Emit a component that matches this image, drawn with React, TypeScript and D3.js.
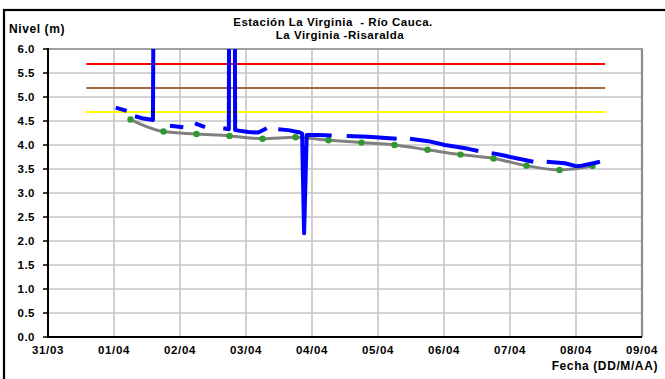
import React from 'react';
import * as d3 from 'd3';

// ---- data ----
const xTickLabels = ['31/03', '01/04', '02/04', '03/04', '04/04', '05/04', '06/04', '07/04', '08/04', '09/04'];
const yTickValues = [0, 0.5, 1, 1.5, 2, 2.5, 3, 3.5, 4, 4.5, 5, 5.5, 6];

// days since 31/03 00:00
const dotTimes = [1.25, 1.75, 2.25, 2.75, 3.25, 3.75, 4.25, 4.75, 5.25, 5.75, 6.25, 6.75, 7.25, 7.75, 8.25];
const dotLevels = [4.53, 4.28, 4.23, 4.19, 4.13, 4.16, 4.1, 4.05, 4.0, 3.9, 3.8, 3.72, 3.57, 3.48, 3.56];

const blueTimes = [
  1.026, 1.192, 1.2,
  1.318, 1.45, 1.59, 1.6, 1.61,
  1.848, 2.05, 2.1,
  2.227, 2.379, 2.4,
  2.656, 2.74, 2.745, 2.83, 2.835, 3.035, 3.186, 3.314, 3.4,
  3.489, 3.641, 3.818, 3.85, 3.88, 3.92, 4.1, 4.298, 4.4,
  4.526, 4.853, 5.283, 5.3,
  5.485, 5.762, 6.015, 6.368, 6.52, 6.6,
  6.723, 6.874, 7.353, 7.4,
  7.556, 7.833, 8.0, 8.086, 8.262, 8.364,
];
const blueLevels: (number | null)[] = [
  4.78, 4.71, null,
  4.6, 4.55, 4.52, 7.5, null,
  4.4, 4.37, null,
  4.45, 4.37, null,
  4.35, 4.33, 7.5, 7.5, 4.31, 4.27, 4.26, 4.35, null,
  4.33, 4.31, 4.26, 4.24, 2.16, 4.21, 4.21, 4.2, null,
  4.19, 4.17, 4.13, null,
  4.13, 4.08, 4.0, 3.92, 3.875, null,
  3.83, 3.79, 3.65, null,
  3.65, 3.62, 3.56, 3.57, 3.62, 3.65,
];

const thresholdLevels = [5.69, 5.19, 4.69];
const thresholdStart = 0.58;
const thresholdEnd = 8.44;

// ---- styles ----
const thresholdColors = ['#FF0000', '#A0683C', '#FFFF00'];
const FONT = '"Liberation Sans", Arial, sans-serif';

export default function App() {
  const W = 665, H = 379;
  const x0 = 48, x1 = 642, y0 = 337, y1 = 49;
  const x = d3.scaleLinear().domain([0, 9]).range([x0, x1]);
  const y = d3.scaleLinear().domain([0, 6]).range([y0, y1]);

  const blueData = blueTimes.map((t, i) => ({ t, v: blueLevels[i] }));
  const blueLine = d3.line<{ t: number; v: number | null }>()
    .defined(d => d.v !== null)
    .x(d => x(d.t))
    .y(d => y(d.v as number));

  const grayData = dotTimes.map((t, i) => ({ t, v: dotLevels[i] }));
  const grayLine = d3.line<{ t: number; v: number }>()
    .x(d => x(d.t))
    .y(d => y(d.v))
    .curve(d3.curveMonotoneX);

  const txt = { fontFamily: FONT, fontWeight: 700, fill: '#000', whiteSpace: 'pre' } as const;

  return (
    <svg width={W} height={H} style={{ position: 'absolute', left: 0, top: 0, background: '#fff' }}>
      <defs>
        <clipPath id="plotClip">
          <rect x={x0} y={y1} width={x1 - x0} height={y0 - y1} />
        </clipPath>
      </defs>
      {/* outer frame */}
      <rect x={4} y={10} width={720} height={420} fill="none" stroke="#000" strokeWidth={2.2} />

      {/* gridlines */}
      {yTickValues.map(v => (
        <line key={'h' + v} x1={x0} x2={x1} y1={y(v)} y2={y(v)} stroke="#C4C4C4" strokeWidth={1.6} />
      ))}
      {xTickLabels.map((l, i) => (
        <line key={'v' + l} x1={x(i)} x2={x(i)} y1={y1} y2={y0} stroke="#C4C4C4" strokeWidth={1.6} />
      ))}
      {/* plot border top/right */}
      <line x1={x0} x2={x1 + 1} y1={y1} y2={y1} stroke="#A0A0A0" strokeWidth={1.8} />
      <line x1={x1} x2={x1} y1={y1} y2={y0} stroke="#8C8C8C" strokeWidth={2.2} />

      {/* thresholds */}
      {thresholdLevels.map((v, i) => (
        <line key={'t' + i} x1={x(thresholdStart)} x2={x(thresholdEnd)} y1={y(v)} y2={y(v)}
          stroke={thresholdColors[i]} strokeWidth={2} />
      ))}

      <g clipPath="url(#plotClip)">
        <path d={grayLine(grayData) || ''} fill="none" stroke="#808080" strokeWidth={3} />
        {grayData.map((d, i) => (
          <circle key={'c' + i} cx={x(d.t)} cy={y(d.v)} r={3.2} fill="#2E9A2E" />
        ))}
        <path d={blueLine(blueData) || ''} fill="none" stroke="#0000FF" strokeWidth={4} strokeLinejoin="round" />
      </g>

      {/* axes */}
      <line x1={x0} x2={x0} y1={y1 - 1} y2={y0 + 1} stroke="#000" strokeWidth={2} />
      <line x1={x0} x2={x1} y1={y0} y2={y0} stroke="#000" strokeWidth={2} />
      {yTickValues.map(v => (
        <g key={'yt' + v}>
          <line x1={x0 - 5} x2={x0} y1={y(v)} y2={y(v)} stroke="#000" strokeWidth={1.5} />
          <text x={35} y={y(v) + 4} textAnchor="end" fontSize={11.5} letterSpacing={0.5} style={txt}>{v.toFixed(1)}</text>
        </g>
      ))}
      {xTickLabels.map((l, i) => (
        <text key={'xl' + l} x={x(i)} y={354} textAnchor="middle" fontSize={11.5} letterSpacing={0.6} style={txt}>{l}</text>
      ))}

      {/* titles */}
      <text x={9} y={33} fontSize={12} letterSpacing={0.6} style={txt}>Nivel (m)</text>
      <text x={333} y={25.5} textAnchor="middle" fontSize={11.5} letterSpacing={0.5} style={txt}>{'Estación La Virginia  - Río Cauca.'}</text>
      <text x={340} y={39} textAnchor="middle" fontSize={11.5} letterSpacing={0.5} style={txt}>{'La Virginia -Risaralda'}</text>
      <text x={658} y={370} textAnchor="end" fontSize={12} letterSpacing={0.6} style={txt}>Fecha (DD/M/AA)</text>
    </svg>
  );
}
